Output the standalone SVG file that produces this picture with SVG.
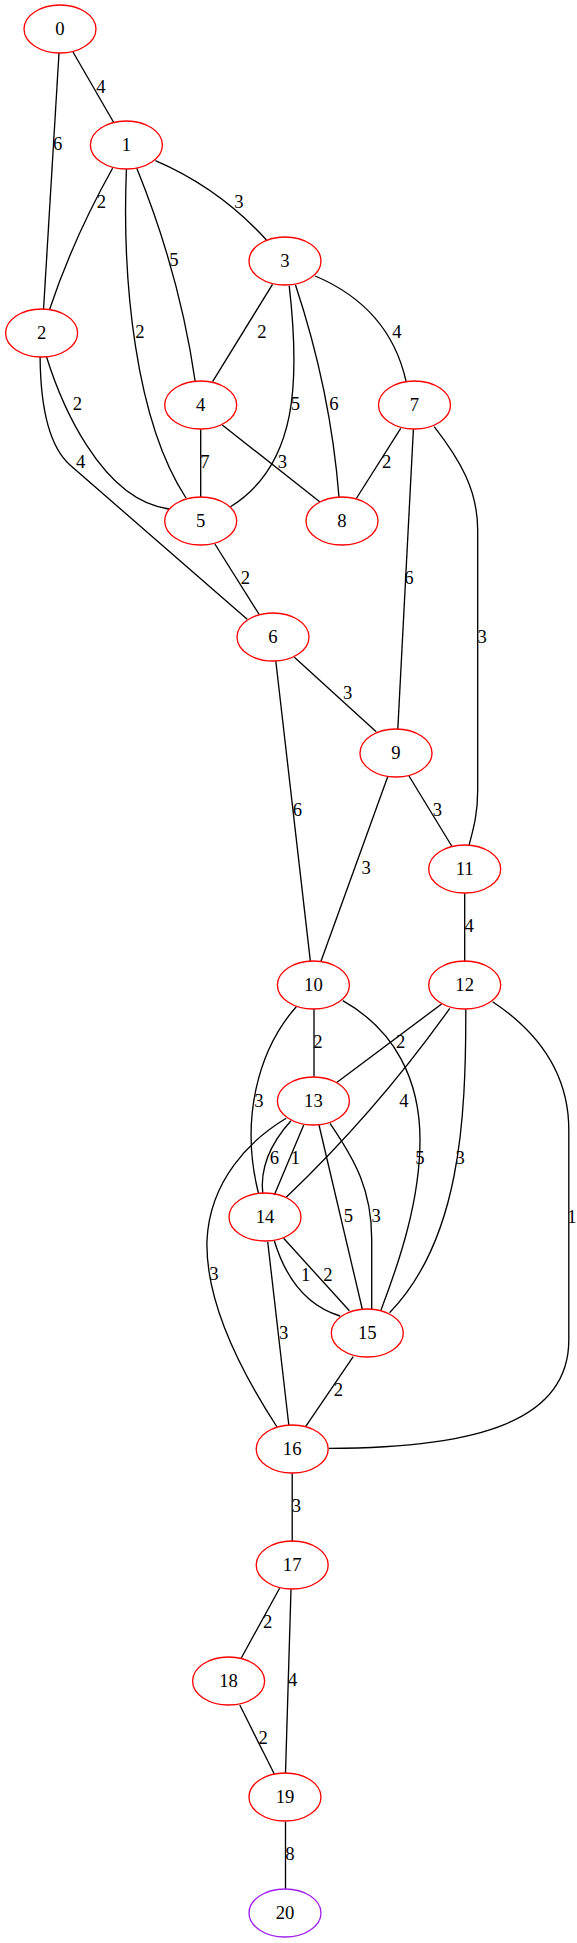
<svg xmlns="http://www.w3.org/2000/svg" width="577" height="1943" viewBox="0 0 577 1943">
<style>
.n ellipse{fill:none;stroke:#ff0000;stroke-width:1.33}
#n20 ellipse{stroke:#a020f0}
text{font-family:"Liberation Serif","Times New Roman",serif;font-size:18.67px;text-anchor:middle;fill:#000}
#edges path{fill:none;stroke:#000;stroke-width:1.33}
</style>
<rect width="577" height="1943" fill="#fff"/>
<g id="edges">
<path d="M73,52 L114,123"/>
<path d="M59,53 L43.5,310"/>
<path d="M112.6,168.3 Q73,239 49.4,310"/>
<path d="M126.4,169.3 C122,280 135,420 186,498"/>
<path d="M136.8,168.3 Q180,275 195.2,381.7"/>
<path d="M155.4,160.7 Q219,188 266.5,240"/>
<path d="M272.5,284.3 L212.6,381.7"/>
<path d="M289.2,285.7 C300,380 298,465 230.5,506.7"/>
<path d="M295.5,285 Q330.7,391 339,497.3"/>
<path d="M315.2,276 Q389.4,307.5 406,381"/>
<path d="M46.5,356.7 C60,400 100,500 169,509"/>
<path d="M40.1,356.7 C40.5,410 50,447 70,465 L247.2,619.3"/>
<path d="M200.7,429.3 L200.7,497.3"/>
<path d="M222.3,425 L319.7,501.7"/>
<path d="M400.7,428.3 L356,499"/>
<path d="M413.4,429.3 L397.8,729.3"/>
<path d="M434.2,426.7 C460,460 477.7,490 477.7,530 L477.7,790 C477.7,815 473,830 469.1,845"/>
<path d="M214.9,544 L259.5,615"/>
<path d="M294.4,657.3 L376.2,731.7"/>
<path d="M275.8,661 L310.4,961.7"/>
<path d="M387.7,776.7 L320.8,961.7"/>
<path d="M409,776 L451.7,846"/>
<path d="M464.7,893.3 L464.7,961.7"/>
<path d="M314,1009.3 L314,1076.7"/>
<path d="M296.3,1006.7 C258,1050 240,1120 258.4,1193"/>
<path d="M342.8,1000.7 C395,1030 420,1080 420,1140 C420,1200 400,1260 381,1310"/>
<path d="M441.6,1004 L336.4,1082.7"/>
<path d="M449.8,1008.3 Q377,1110.7 286.2,1197.3"/>
<path d="M465.8,1009.3 C466,1120 460,1240 389.6,1312.7"/>
<path d="M492.6,1001.7 C535,1030 568.8,1070 568.8,1130 L568.8,1340 C568.8,1420 480,1448 329,1448.3"/>
<path d="M291,1120.7 Q258.5,1156.6 262.8,1194"/>
<path d="M303.7,1125 L274.3,1195"/>
<path d="M286.2,1118.3 C250,1140 210,1180 207,1240 C205,1300 240,1370 277,1427"/>
<path d="M319,1125 L362.5,1310"/>
<path d="M330,1123.3 C355,1160 372,1190 371.7,1240 L371.7,1309.3"/>
<path d="M274.3,1240.7 Q292.8,1301.6 340.1,1316"/>
<path d="M283.6,1238.3 L349.4,1310.7"/>
<path d="M267.7,1241.7 L288.8,1425"/>
<path d="M353.2,1356.7 L305.6,1426.7"/>
<path d="M292.2,1473.3 L292.2,1541.7"/>
<path d="M279.6,1588.3 L240.9,1658.7"/>
<path d="M291,1589.3 L285.5,1773.3"/>
<path d="M239.8,1705 L274.3,1774"/>
<path d="M285.5,1821.7 L285.5,1889.3"/>
<text x="101" y="93">4</text>
<text x="57.6" y="150">6</text>
<text x="101.5" y="208">2</text>
<text x="239" y="208">3</text>
<text x="174" y="266">5</text>
<text x="140" y="338">2</text>
<text x="262" y="338">2</text>
<text x="397" y="338">4</text>
<text x="77.3" y="410">2</text>
<text x="295.5" y="410">5</text>
<text x="333.8" y="410">6</text>
<text x="80.7" y="468">4</text>
<text x="205" y="468">7</text>
<text x="282.5" y="468">3</text>
<text x="386.6" y="468">2</text>
<text x="409" y="584">6</text>
<text x="245.4" y="584">2</text>
<text x="482.2" y="643">3</text>
<text x="347.6" y="699">3</text>
<text x="297.4" y="816">6</text>
<text x="437.5" y="816">3</text>
<text x="366.2" y="874">3</text>
<text x="469.1" y="932">4</text>
<text x="317.8" y="1048">2</text>
<text x="400.7" y="1048">2</text>
<text x="259" y="1107">3</text>
<text x="404" y="1107">4</text>
<text x="274.3" y="1164">6</text>
<text x="295.5" y="1164">1</text>
<text x="420" y="1164">5</text>
<text x="460.2" y="1164">3</text>
<text x="348.3" y="1222">5</text>
<text x="376.2" y="1222">3</text>
<text x="572" y="1223">1</text>
<text x="213.8" y="1280">3</text>
<text x="305.6" y="1281">1</text>
<text x="327.9" y="1281">2</text>
<text x="283.6" y="1339">3</text>
<text x="338.3" y="1396">2</text>
<text x="296.3" y="1512">3</text>
<text x="267.7" y="1628">2</text>
<text x="292.6" y="1686">4</text>
<text x="263.2" y="1744">2</text>
<text x="290" y="1860">8</text>
</g>
<g id="n0" class="n"><ellipse cx="60" cy="29" rx="36" ry="24"/><text x="60" y="35">0</text></g>
<g id="n1" class="n"><ellipse cx="126.4" cy="145" rx="36" ry="24"/><text x="126.4" y="151">1</text></g>
<g id="n2" class="n"><ellipse cx="41.6" cy="333" rx="36" ry="24"/><text x="41.6" y="339">2</text></g>
<g id="n3" class="n"><ellipse cx="285" cy="261" rx="36" ry="24"/><text x="285" y="267">3</text></g>
<g id="n4" class="n"><ellipse cx="200.7" cy="405" rx="36" ry="24"/><text x="200.7" y="411">4</text></g>
<g id="n5" class="n"><ellipse cx="200.7" cy="521" rx="36" ry="24"/><text x="200.7" y="527">5</text></g>
<g id="n6" class="n"><ellipse cx="273" cy="637" rx="36" ry="24"/><text x="273" y="643">6</text></g>
<g id="n7" class="n"><ellipse cx="414.5" cy="405" rx="36" ry="24"/><text x="414.5" y="411">7</text></g>
<g id="n8" class="n"><ellipse cx="342" cy="521" rx="36" ry="24"/><text x="342" y="527">8</text></g>
<g id="n9" class="n"><ellipse cx="396" cy="753" rx="36" ry="24"/><text x="396" y="759">9</text></g>
<g id="n10" class="n"><ellipse cx="313.4" cy="985" rx="36" ry="24"/><text x="313.4" y="991">10</text></g>
<g id="n11" class="n"><ellipse cx="464.7" cy="869" rx="36" ry="24"/><text x="464.7" y="875">11</text></g>
<g id="n12" class="n"><ellipse cx="464.7" cy="985" rx="36" ry="24"/><text x="464.7" y="991">12</text></g>
<g id="n13" class="n"><ellipse cx="313.4" cy="1101" rx="36" ry="24"/><text x="313.4" y="1107">13</text></g>
<g id="n14" class="n"><ellipse cx="265" cy="1217" rx="36" ry="24"/><text x="265" y="1223">14</text></g>
<g id="n15" class="n"><ellipse cx="367.3" cy="1333" rx="36" ry="24"/><text x="367.3" y="1339">15</text></g>
<g id="n16" class="n"><ellipse cx="292.2" cy="1449" rx="36" ry="24"/><text x="292.2" y="1455">16</text></g>
<g id="n17" class="n"><ellipse cx="292.2" cy="1565" rx="36" ry="24"/><text x="292.2" y="1571">17</text></g>
<g id="n18" class="n"><ellipse cx="228.6" cy="1681" rx="36" ry="24"/><text x="228.6" y="1687">18</text></g>
<g id="n19" class="n"><ellipse cx="285" cy="1797" rx="36" ry="24"/><text x="285" y="1803">19</text></g>
<g id="n20" class="n"><ellipse cx="285" cy="1913" rx="36" ry="24"/><text x="285" y="1919">20</text></g>
</svg>
